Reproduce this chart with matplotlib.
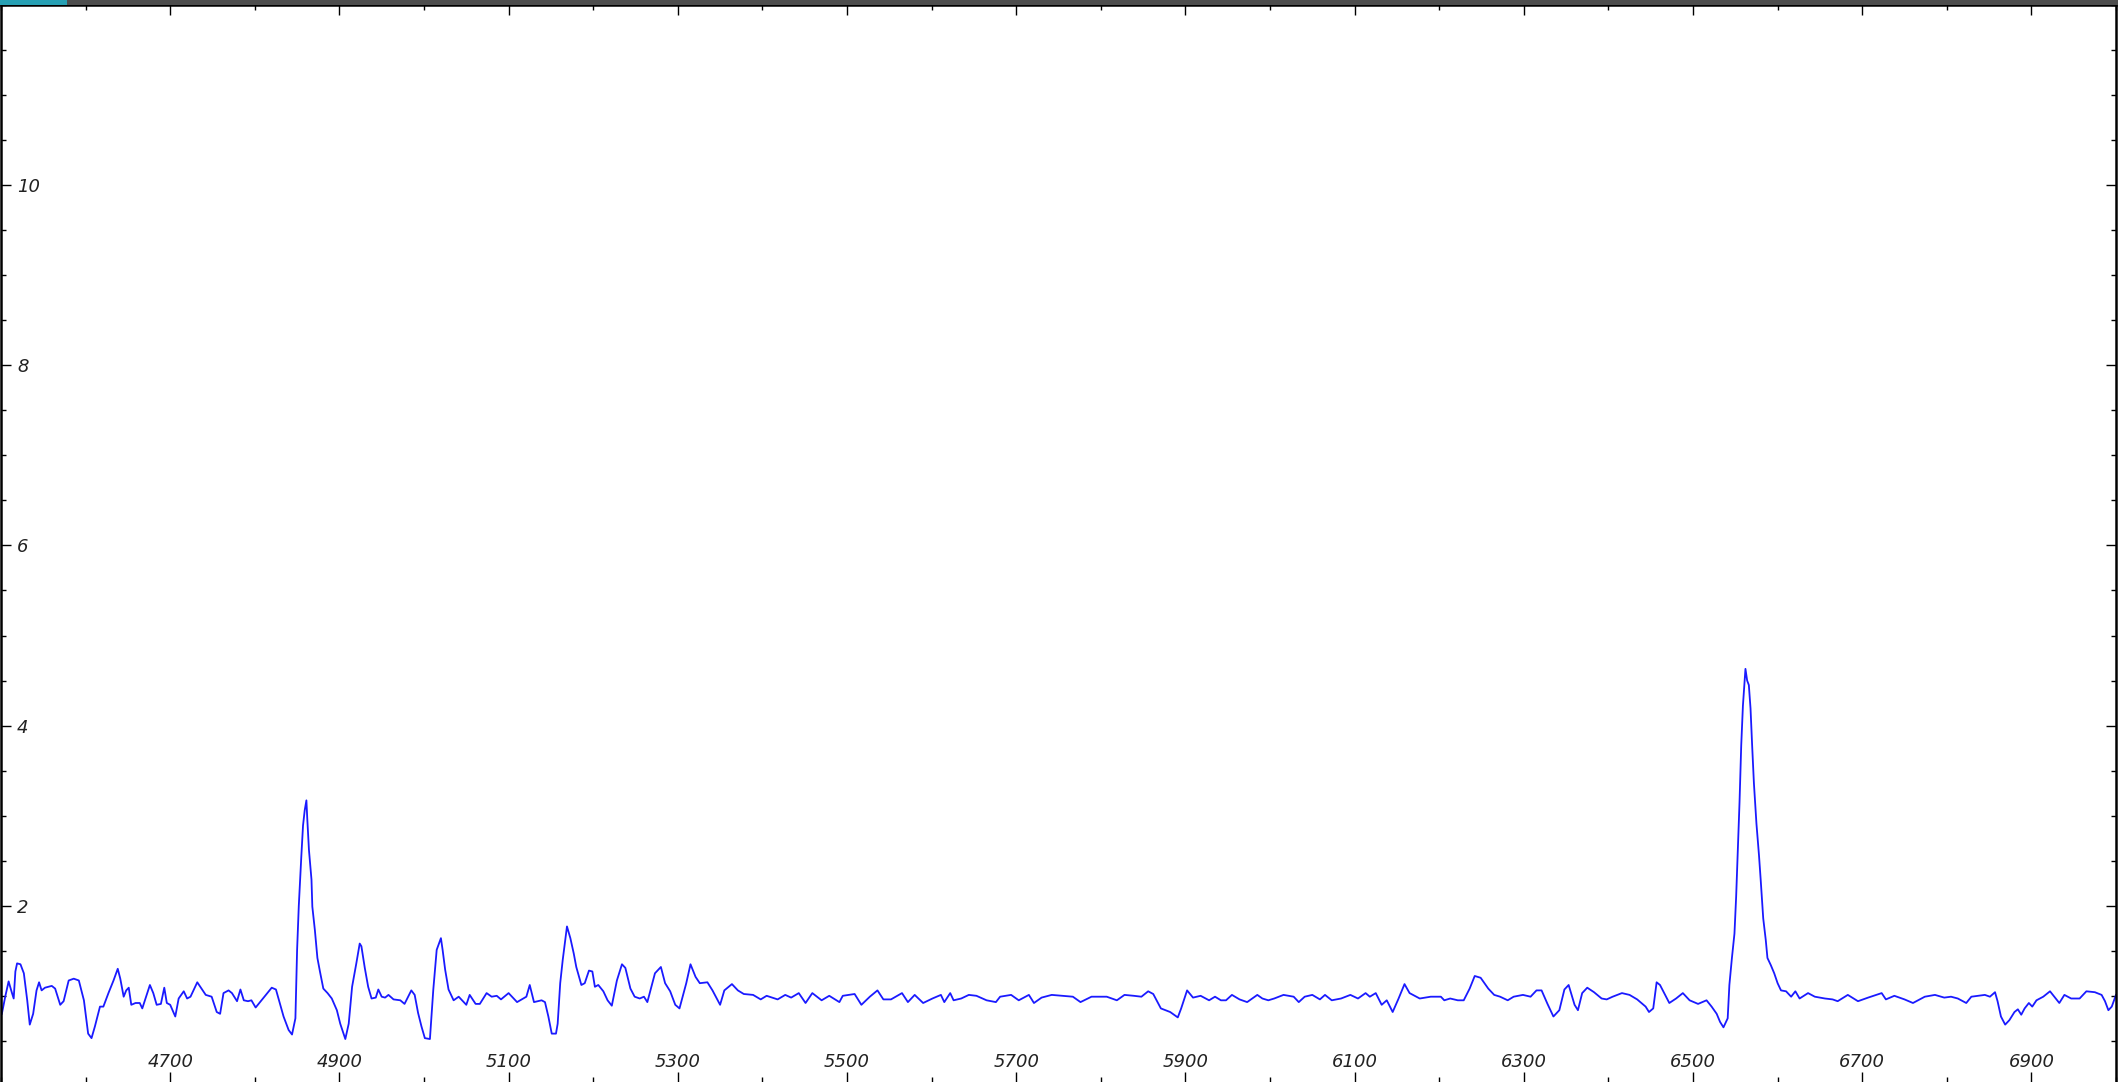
import matplotlib
matplotlib.use("Agg")
import matplotlib.pyplot as plt
from matplotlib.patches import Rectangle
from matplotlib.ticker import FixedLocator, MultipleLocator

# wavelength (Angstrom) and normalised flux
WAVELENGTH = [
    4501, 4505, 4509, 4513, 4515, 4517, 4519, 4523, 4527, 4531, 4534, 4538, 4542, 4545, 4548, 4552,
    4560, 4564, 4570, 4574, 4580, 4586, 4592, 4598, 4603, 4607, 4611, 4617, 4621, 4627, 4633, 4638,
    4641, 4645, 4648, 4651, 4654, 4659, 4664, 4667, 4676, 4680, 4684, 4689, 4693, 4696, 4700, 4706,
    4710, 4716, 4720, 4724, 4732, 4737, 4742, 4749, 4755, 4759, 4763, 4769, 4773, 4779, 4783, 4787,
    4792, 4796, 4801, 4820, 4825, 4834, 4840, 4844, 4848, 4850, 4852, 4855, 4857, 4859, 4861, 4862,
    4864, 4867, 4868, 4871, 4874, 4877, 4881, 4886, 4891, 4897, 4901, 4907, 4911, 4915, 4920, 4924,
    4926, 4930, 4934, 4938, 4943, 4946, 4950, 4954, 4958, 4964, 4972, 4977, 4985, 4989, 4993, 4997,
    5001, 5007, 5011, 5015, 5020, 5022, 5025, 5029, 5035, 5041, 5050, 5054, 5061, 5066, 5074, 5080,
    5086, 5091, 5100, 5110, 5121, 5125, 5130, 5139, 5143, 5147, 5151, 5156, 5158, 5161, 5164, 5169,
    5173, 5177, 5180, 5186, 5190, 5195, 5199, 5202, 5206, 5212, 5217, 5222, 5228, 5234, 5238, 5244,
    5249, 5255, 5260, 5264, 5273, 5280, 5285, 5291, 5297, 5302, 5310, 5315, 5321, 5326, 5335, 5341,
    5350, 5355, 5364, 5371, 5378, 5389, 5398, 5405, 5418, 5427, 5434, 5443, 5451, 5459, 5470, 5479,
    5491, 5495, 5509, 5517, 5527, 5536, 5543, 5552, 5565, 5572, 5580, 5590, 5601, 5611, 5615, 5622,
    5626, 5635, 5644, 5653, 5665, 5676, 5681, 5694, 5703, 5715, 5721, 5730, 5742, 5755, 5767, 5776,
    5789, 5807, 5819, 5828, 5839, 5848, 5856, 5862, 5871, 5882, 5891, 5895, 5902, 5909, 5918, 5928,
    5935, 5942, 5948, 5955, 5964, 5973, 5985, 5991, 5998, 6005, 6016, 6028, 6034, 6041, 6050, 6059,
    6065, 6073, 6084, 6095, 6104, 6113, 6118, 6125, 6132, 6138, 6145, 6152, 6159, 6165, 6177, 6190,
    6202, 6206, 6213, 6222, 6229, 6236, 6242, 6249, 6258, 6265, 6272, 6281, 6288, 6299, 6308, 6315,
    6321, 6328, 6335, 6342, 6348, 6353, 6360, 6364, 6369, 6375, 6383, 6392, 6398, 6405, 6416, 6425,
    6434, 6444, 6448, 6453, 6457, 6461, 6467, 6472, 6480, 6488, 6496, 6506, 6516, 6522, 6528, 6532,
    6536, 6541, 6543, 6546, 6549, 6551, 6553, 6555, 6557, 6559, 6561, 6562, 6564, 6566, 6568, 6570,
    6572, 6575, 6578, 6580, 6583, 6586, 6588, 6592, 6596, 6600, 6604, 6610, 6616, 6621, 6626, 6636,
    6644, 6656, 6665, 6671, 6683, 6695, 6707, 6723, 6728, 6738, 6750, 6760, 6774, 6786, 6797, 6805,
    6813, 6823, 6829, 6837, 6845, 6851, 6857, 6860, 6864, 6869, 6874, 6880, 6884, 6888, 6892, 6897,
    6901, 6906, 6914, 6922, 6927, 6933, 6939, 6947, 6957, 6965, 6975, 6983, 6987, 6991, 6995, 7000,
]
FLUX = [
    0.80, 0.99, 1.16, 1.03, 0.97, 1.27, 1.36, 1.35, 1.25, 0.95, 0.68, 0.80, 1.06, 1.15, 1.06, 1.09,
    1.11, 1.08, 0.90, 0.94, 1.17, 1.19, 1.17, 0.95, 0.58, 0.53, 0.66, 0.88, 0.88, 1.03, 1.17, 1.30,
    1.19, 0.99, 1.06, 1.09, 0.90, 0.92, 0.92, 0.86, 1.12, 1.03, 0.90, 0.91, 1.09, 0.92, 0.90, 0.77,
    0.97, 1.05, 0.97, 0.99, 1.15, 1.08, 1.01, 0.99, 0.82, 0.80, 1.03, 1.06, 1.03, 0.94, 1.07, 0.95,
    0.94, 0.95, 0.87, 1.09, 1.07, 0.77, 0.62, 0.57, 0.75, 1.51, 2.00, 2.55, 2.89, 3.06, 3.17, 2.97,
    2.62, 2.29, 1.99, 1.73, 1.42, 1.27, 1.08, 1.03, 0.97, 0.84, 0.69, 0.52, 0.69, 1.10, 1.36, 1.58,
    1.55, 1.31, 1.10, 0.97, 0.98, 1.07, 0.99, 0.98, 1.01, 0.96, 0.95, 0.91, 1.06, 1.01, 0.81, 0.66,
    0.53, 0.52, 1.07, 1.51, 1.64, 1.51, 1.29, 1.07, 0.95, 0.99, 0.90, 1.01, 0.91, 0.91, 1.03, 0.99,
    1.00, 0.96, 1.03, 0.93, 0.99, 1.12, 0.93, 0.95, 0.93, 0.77, 0.58, 0.58, 0.69, 1.14, 1.40, 1.77,
    1.64, 1.47, 1.32, 1.12, 1.14, 1.28, 1.27, 1.10, 1.12, 1.05, 0.95, 0.89, 1.17, 1.35, 1.31, 1.08,
    0.99, 0.97, 0.99, 0.93, 1.25, 1.32, 1.14, 1.05, 0.90, 0.86, 1.14, 1.35, 1.21, 1.14, 1.15, 1.06,
    0.90, 1.06, 1.13, 1.06, 1.02, 1.01, 0.96, 1.00, 0.96, 1.01, 0.98, 1.03, 0.92, 1.03, 0.95, 1.00,
    0.93, 1.00, 1.02, 0.90, 0.99, 1.06, 0.96, 0.96, 1.03, 0.93, 1.01, 0.92, 0.97, 1.01, 0.93, 1.03,
    0.95, 0.97, 1.01, 1.00, 0.95, 0.93, 0.99, 1.01, 0.95, 1.01, 0.92, 0.98, 1.01, 1.00, 0.99, 0.93,
    0.99, 0.99, 0.95, 1.01, 1.00, 0.99, 1.05, 1.02, 0.86, 0.82, 0.76, 0.86, 1.06, 0.98, 1.00, 0.95,
    0.99, 0.95, 0.95, 1.01, 0.96, 0.93, 1.01, 0.97, 0.95, 0.97, 1.01, 0.99, 0.93, 0.99, 1.01, 0.96,
    1.01, 0.95, 0.97, 1.01, 0.97, 1.03, 0.99, 1.03, 0.90, 0.95, 0.82, 0.97, 1.13, 1.03, 0.97, 0.99,
    0.99, 0.95, 0.97, 0.95, 0.95, 1.08, 1.22, 1.20, 1.08, 1.01, 0.99, 0.95, 0.99, 1.01, 0.99, 1.06,
    1.06, 0.91, 0.77, 0.84, 1.07, 1.12, 0.90, 0.84, 1.03, 1.09, 1.04, 0.97, 0.96, 0.99, 1.03, 1.01,
    0.96, 0.88, 0.82, 0.86, 1.15, 1.12, 1.01, 0.92, 0.97, 1.03, 0.95, 0.91, 0.95, 0.88, 0.80, 0.71,
    0.65, 0.75, 1.12, 1.42, 1.69, 2.10, 2.62, 3.15, 3.78, 4.22, 4.49, 4.63, 4.50, 4.45, 4.19, 3.76,
    3.36, 2.91, 2.56, 2.29, 1.86, 1.62, 1.42, 1.34, 1.25, 1.14, 1.06, 1.05, 0.99, 1.05, 0.97, 1.03,
    0.99, 0.97, 0.96, 0.94, 1.01, 0.94, 0.98, 1.03, 0.96, 1.00, 0.96, 0.92, 0.99, 1.01, 0.98, 0.99,
    0.97, 0.92, 0.99, 1.00, 1.01, 0.99, 1.04, 0.94, 0.77, 0.68, 0.73, 0.82, 0.85, 0.79, 0.86, 0.92,
    0.88, 0.95, 0.99, 1.05, 0.99, 0.92, 1.01, 0.97, 0.97, 1.05, 1.04, 1.01, 0.94, 0.84, 0.88, 1.01,
]

X_MAJOR = [4700, 4900, 5100, 5300, 5500, 5700, 5900, 6100, 6300, 6500, 6700, 6900]
Y_MAJOR = [2, 4, 6, 8, 10]

W_PX, H_PX = 2118, 1082
TOP_BAR_PX = 5


def main():
    fig = plt.figure(figsize=(W_PX / 100, H_PX / 100), dpi=100)
    fig.patch.set_facecolor("white")

    ax = fig.add_axes([1 / W_PX, 0.0, 2115 / W_PX, (H_PX - TOP_BAR_PX) / H_PX])
    ax.plot(WAVELENGTH, FLUX, color="#1a1aff", linewidth=1.3)

    ax.set_xlim(4500, 7000)
    ax.set_ylim(0.043, 12.0)

    ax.xaxis.set_major_locator(FixedLocator(X_MAJOR))
    ax.xaxis.set_minor_locator(MultipleLocator(100))
    ax.yaxis.set_major_locator(FixedLocator(Y_MAJOR))
    ax.yaxis.set_minor_locator(MultipleLocator(0.5))

    for side in ("left", "top", "right"):
        ax.spines[side].set_linewidth(1.8)
        ax.spines[side].set_color("black")
    ax.spines["bottom"].set_visible(False)

    ax.tick_params(which="both", direction="in", top=True, right=True, bottom=True, left=True,
                   width=1.0, color="black")
    ax.tick_params(which="major", length=7.5)
    ax.tick_params(which="minor", length=3.8)
    ax.tick_params(axis="x", which="major", pad=-21, labelsize=13, labelcolor="#222222")
    ax.tick_params(axis="y", which="major", pad=-11.5, labelsize=13, labelcolor="#222222")

    for lab in ax.get_xticklabels() + ax.get_yticklabels():
        lab.set_fontstyle("italic")
    for lab in ax.get_yticklabels():
        lab.set_horizontalalignment("left")

    # dark title strip along the top with the small teal tab
    fig.add_artist(Rectangle((0, 1 - TOP_BAR_PX / H_PX), 1, TOP_BAR_PX / H_PX,
                             transform=fig.transFigure, facecolor="#4d4d4d", edgecolor="none"))
    fig.add_artist(Rectangle((0, 1 - TOP_BAR_PX / H_PX), 67 / W_PX, TOP_BAR_PX / H_PX,
                             transform=fig.transFigure, facecolor="#27a0b4", edgecolor="none"))

    fig.savefig("out.png", dpi=100)
    plt.close(fig)


if __name__ == "__main__":
    main()
